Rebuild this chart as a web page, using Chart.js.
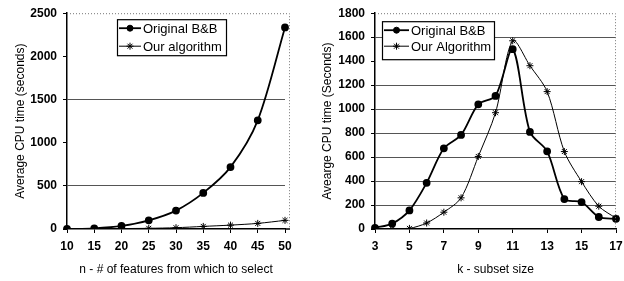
<!DOCTYPE html>
<html>
<head>
<meta charset="utf-8">
<script src="https://cdn.jsdelivr.net/npm/chart.js@4/dist/chart.umd.min.js"></script>
<style>
  body { margin: 0; background: #fff; }
  .wrap { display: flex; width: 624px; height: 281px; }
  canvas { display: block; }
</style>
</head>
<body>
<div class="wrap">
  <canvas id="leftChart" width="312" height="281"></canvas>
  <canvas id="rightChart" width="312" height="281"></canvas>
</div>
<script>
// left chart: time vs number of features
const nFeatures = ['10', '15', '20', '25', '30', '35', '40', '45', '50'];
const leftOriginal = [0, 8, 35, 100, 213, 418, 717, 1259, 2335];
const leftOurs = [0, 3, 5, 8, 15, 30, 45, 65, 100];
const leftTicks = [0, 500, 1000, 1500, 2000, 2500];

// right chart: time vs subset size
const subsetSize = ['3', '4', '5', '6', '7', '8', '9', '10', '11', '12', '13', '14', '15', '16', '17'];
const rightOriginal = [10, 45, 155, 385, 673, 785, 1040, 1110, 1500, 810, 648, 250, 225, 100, 85];
const rightOurs = [5, 0, 5, 50, 140, 260, 605, 970, 1570, 1362, 1146, 646, 395, 190, 90];
const rightTicks = [0, 200, 400, 600, 800, 1000, 1200, 1400, 1600, 1800];

const FONT = "'Liberation Sans', Arial, sans-serif";

// legend boxed inside the plot + dotted top/right frame
const framePlugin = {
  id: 'frame',
  afterDraw(chart, args, opts) {
    const { ctx, chartArea: a } = chart;
    const r = a.right + opts.extra;
    ctx.save();
    ctx.strokeStyle = '#777';
    ctx.lineWidth = 1;
    ctx.setLineDash([1, 2]);
    ctx.beginPath();
    ctx.moveTo(a.left, a.top + 0.5);
    ctx.lineTo(r - 0.5, a.top + 0.5);
    ctx.lineTo(r - 0.5, a.bottom);
    ctx.stroke();
    ctx.setLineDash([]);
    if (opts.extra > 0) {
      ctx.strokeStyle = '#000';
      ctx.lineWidth = 1.5;
      ctx.beginPath();
      ctx.moveTo(a.right, a.bottom);
      ctx.lineTo(r, a.bottom);
      ctx.stroke();
    }

    // legend
    const bx = a.left + opts.dx, by = a.top + opts.dy;
    ctx.fillStyle = '#fff';
    ctx.fillRect(bx, by, opts.w, opts.h);
    ctx.strokeStyle = '#000';
    ctx.lineWidth = 1.2;
    ctx.strokeRect(bx + 0.5, by + 0.5, opts.w, opts.h);
    ctx.font = '13px ' + FONT;
    ctx.textBaseline = 'middle';
    chart.data.datasets.forEach((ds, i) => {
      const y = by + opts.rows[i];
      ctx.strokeStyle = '#000';
      ctx.fillStyle = '#000';
      ctx.lineWidth = ds.borderWidth;
      ctx.beginPath();
      ctx.moveTo(bx + 2, y);
      ctx.lineTo(bx + 2 + opts.lineLen, y);
      ctx.stroke();
      ctx.lineWidth = 1;
      Chart.helpers.drawPoint(ctx, {
        pointStyle: ds.pointStyle, radius: ds.pointRadius, borderWidth: 1, rotation: 0
      }, bx + 2 + opts.lineLen / 2, y);
      ctx.fillStyle = '#000';
      ctx.fillText(ds.label, bx + 4 + opts.lineLen, y + 1);
    });
    ctx.restore();
  }
};

function makeChart(id, labels, orig, ours, names, ticks, yTitle, xTitle, sizes, legend) {
  const maxY = ticks[ticks.length - 1];
  const step = ticks[1] - ticks[0];
  return new Chart(document.getElementById(id), {
    type: 'line',
    data: {
      labels,
      datasets: [{
        label: names[0],
        data: orig,
        borderColor: '#000',
        backgroundColor: '#000',
        pointBackgroundColor: '#000',
        pointBorderColor: '#000',
        borderWidth: 1.8,
        pointStyle: 'circle',
        pointRadius: 3,
        tension: 0.3
      }, {
        label: names[1],
        data: ours,
        borderColor: '#000',
        backgroundColor: '#000',
        pointBackgroundColor: '#000',
        pointBorderColor: '#000',
        borderWidth: 1,
        pointStyle: 'star',
        pointRadius: 3.5,
        pointBorderWidth: 1,
        tension: 0.3
      }]
    },
    options: {
      responsive: false,
      animation: false,
      devicePixelRatio: 1,
      layout: { padding: { top: 6, right: sizes.right, left: 0, bottom: 0 } },
      plugins: {
        legend: { display: false },
        tooltip: { enabled: false },
        frame: legend
      },
      scales: {
        x: {
          offset: false,
          grid: { drawOnChartArea: false, drawTicks: true, tickLength: 4, tickColor: '#000' },
          border: { color: '#000', width: 1.5 },
          ticks: {
            color: '#000', font: { family: FONT, size: 12, weight: 'bold' },
            padding: 6, maxRotation: 0, autoSkip: true, maxTicksLimit: 9
          },
          title: {
            display: true, text: xTitle, color: '#000',
            font: { family: FONT, size: 12 }, padding: { top: 4, bottom: 4 }
          },
          afterFit(scale) {
            scale.height = 52;
            scale.paddingRight = 0;
            scale.paddingLeft = 0;
          }
        },
        y: {
          min: 0, max: maxY,
          grid: {
            color: ctx => sizes.grid.includes(ctx.tick && ctx.tick.value) ? '#555' : 'rgba(0,0,0,0)',
            lineWidth: 1, tickLength: 4, tickColor: '#000'
          },
          border: { color: '#000', width: 1.5 },
          ticks: {
            color: '#000', font: { family: FONT, size: 12, weight: 'bold' },
            stepSize: step, padding: 6,
            callback: v => String(v)
          },
          title: {
            display: true, text: yTitle, color: '#000',
            font: { family: FONT, size: 12 }, padding: { top: sizes.titlePad, bottom: 4 }
          },
          afterFit(scale) { scale.width = sizes.left; }
        }
      }
    },
    plugins: [framePlugin]
  });
}

makeChart('leftChart', nFeatures, leftOriginal, leftOurs,
  ['Original B&B', 'Our algorithm'], leftTicks,
  'Average CPU time (seconds)', 'n - # of features from which to select',
  { left: 67, right: 27, grid: [500, 1500], titlePad: 13 },
  { dx: 50, dy: 6, w: 109, h: 36, rows: [9, 27], lineLen: 22, extra: 5 });

makeChart('rightChart', subsetSize, rightOriginal, rightOurs,
  ['Original B&B', 'Our Algorithm'], rightTicks,
  'Avearge CPU time (Seconds)', 'k - subset size',
  { left: 63, right: 8, grid: [200, 400, 600, 800, 1000, 1200, 1600], titlePad: 8 },
  { dx: 7, dy: 8, w: 112, h: 38, rows: [9, 25], lineLen: 25, extra: 0 });
</script>
</body>
</html>
